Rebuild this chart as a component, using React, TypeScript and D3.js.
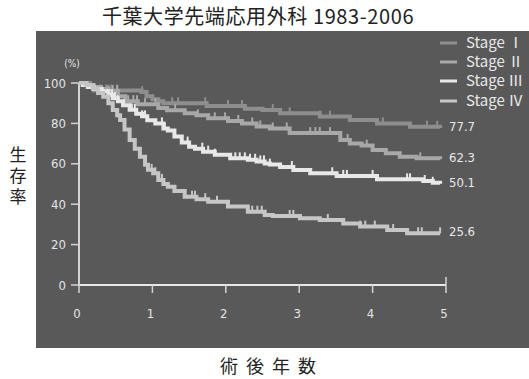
import React from "react";
import * as d3 from "d3";

// KM step points (years, survival %)
const stageITime = [0, 0.15, 0.2, 0.85, 0.92, 1.0, 1.08, 1.15, 1.74, 2.26, 2.5, 2.74, 3.28, 3.69, 4.06, 4.51, 4.92];
const stageISurv = [100, 98, 96.3, 95.5, 93.5, 92, 91, 90, 88.6, 87.2, 86.6, 85, 83.4, 81.7, 80, 78.3, 77.7];
const stageICensor = [0.29, 0.37, 0.44, 0.52, 0.86, 1.27, 1.35, 1.72, 2.03, 2.22, 2.64, 2.87, 3.28, 3.42, 4.14, 4.74, 4.88];

const stageIITime = [0, 0.1, 0.2, 0.3, 0.4, 0.53, 0.63, 0.8, 1.08, 1.2, 1.44, 1.6, 1.76, 2.03, 2.22, 2.42, 2.6, 2.87, 3.56, 3.69, 3.85, 4.0, 4.18, 4.37, 4.6, 4.92];
const stageIISurv = [100, 99, 98, 97, 96, 93.4, 91, 89.5, 87.6, 86.5, 85, 84, 82.5, 81.2, 80, 78.5, 77.5, 75.2, 71.8, 70.1, 69, 66.8, 65.2, 63.5, 62.7, 62.3];
const stageIICensor = [0.4, 0.46, 0.52, 0.67, 0.74, 0.79, 0.9, 1.04, 1.31, 1.62, 1.85, 1.99, 2.17, 2.36, 2.47, 2.64, 2.83, 3.15, 3.22, 3.28, 3.42, 3.56, 3.66, 3.92, 4.65];

const stageIIITime = [0, 0.05, 0.12, 0.2, 0.31, 0.4, 0.46, 0.53, 0.6, 0.69, 0.78, 0.86, 0.93, 1.04, 1.15, 1.21, 1.3, 1.4, 1.5, 1.58, 1.69, 1.85, 2.06, 2.3, 2.42, 2.53, 2.6, 2.74, 2.92, 3.15, 3.51, 4.06, 4.69, 4.82, 4.92];
const stageIIISurv = [100, 99, 98, 97, 95.9, 94, 92.5, 91, 89, 86.8, 84.8, 83.5, 81.5, 80, 77.5, 76.5, 73.5, 70.5, 68.5, 67.5, 66, 64.5, 62.7, 62, 61.2, 60.2, 59.6, 58.4, 56.9, 55.3, 54, 52.3, 51.5, 50.6, 50.1];
const stageIIICensor = [0.4, 0.45, 0.49, 0.53, 0.72, 0.76, 0.86, 0.9, 1.13, 1.17, 1.48, 1.68, 1.76, 1.85, 2.13, 2.19, 2.26, 2.33, 2.4, 2.47, 2.52, 2.6, 2.9, 3.45, 3.6, 3.65, 4.0, 4.47, 4.51, 4.71, 4.82];

const stageIVTime = [0, 0.1, 0.19, 0.26, 0.33, 0.4, 0.46, 0.52, 0.56, 0.62, 0.69, 0.76, 0.83, 0.9, 0.94, 1.01, 1.08, 1.15, 1.21, 1.3, 1.44, 1.6, 1.76, 2.03, 2.3, 2.53, 2.64, 3.01, 3.28, 3.6, 3.83, 4.2, 4.47, 4.92];
const stageIVSurv = [100, 99, 97.3, 95, 93.2, 90, 86.6, 84, 81.7, 77, 71.8, 67.5, 63.5, 59.5, 57, 55.3, 52, 50, 48.7, 46.5, 43.7, 42.5, 41.2, 38.8, 36.3, 34.7, 34.2, 33, 32.2, 30.5, 28.9, 27.2, 25.6, 25.6];
const stageIVCensor = [0.99, 1.04, 1.13, 1.31, 1.54, 1.58, 1.72, 1.88, 2.36, 2.43, 2.49, 2.87, 2.92, 3.39, 3.83, 3.9, 4.03, 4.28, 4.62, 4.67, 4.92];

const stageNames = ["Stage Ⅰ", "Stage Ⅱ", "Stage Ⅲ", "Stage Ⅳ"];
const stageColors = ["#8e8e8e", "#a8a8a8", "#e8e8e8", "#c6c6c6"];
const endLabels = ["77.7", "62.3", "50.1", "25.6"];

const yTicks = [0, 20, 40, 60, 80, 100];
const xTicks = [0, 1, 2, 3, 4, 5];

const series = [
  { time: stageITime, surv: stageISurv, censor: stageICensor },
  { time: stageIITime, surv: stageIISurv, censor: stageIICensor },
  { time: stageIIITime, surv: stageIIISurv, censor: stageIIICensor },
  { time: stageIVTime, surv: stageIVSurv, censor: stageIVCensor },
];

const narrow = "'Liberation Sans Narrow', 'DejaVu Sans Condensed', 'Liberation Sans', sans-serif";
const cjk = "'Noto Sans CJK JP', sans-serif";

export default function App() {
  const W = 529;
  const H = 379;
  const x = d3.scaleLinear().domain([0, 5]).range([79, 446]);
  const y = d3.scaleLinear().domain([0, 100]).range([285, 83]);

  const line = d3
    .line<[number, number]>()
    .x((d) => x(d[0]))
    .y((d) => y(d[1]))
    .curve(d3.curveStepAfter);

  // survival at time t for censor marks
  const survAt = (time: number[], surv: number[], t: number) => {
    const i = d3.bisectRight(time, t) - 1;
    return surv[Math.max(0, i)];
  };

  return (
    <svg width={W} height={H} style={{ position: "absolute", left: 0, top: 0, background: "#fff" }}>
      <text x={258} y={24} textAnchor="middle" fontFamily={cjk} fontSize={20} fill="#222" letterSpacing={0.6}>
        千葉大学先端応用外科 1983-2006
      </text>
      <rect x={36} y={31} width={W - 36} height={317} fill="#595959" />

      {/* y axis */}
      <line x1={79} x2={79} y1={y(100)} y2={y(0)} stroke="#d4d4d4" strokeWidth={2} />
      {yTicks.map((t) => (
        <g key={t}>
          <line x1={71} x2={79} y1={y(t)} y2={y(t)} stroke="#d4d4d4" strokeWidth={1.5} />
          <text x={66} y={y(t) + 4.5} textAnchor="end" fontFamily={narrow} fontSize={13} fill="#e4e4e4">
            {t}
          </text>
        </g>
      ))}
      <text x={72} y={67} textAnchor="middle" fontFamily={narrow} fontSize={10} fill="#e4e4e4">
        (%)
      </text>

      {/* x axis */}
      <line x1={x(0)} x2={x(5)} y1={285} y2={285} stroke="#e8e8e8" strokeWidth={2} />
      {xTicks.map((t) => (
        <g key={t}>
          <line
            x1={x(t)}
            x2={x(t)}
            y1={t === 0 || t === 5 ? 277 : 285}
            y2={293}
            stroke="#d4d4d4"
            strokeWidth={1.5}
          />
          <text x={x(t) - 2} y={318} textAnchor="middle" fontFamily={narrow} fontSize={13} fill="#e4e4e4">
            {t}
          </text>
        </g>
      ))}

      {/* curves */}
      {series.map((s, i) => {
        const pts = s.time.map((t, j) => [t, s.surv[j]] as [number, number]);
        return (
          <g key={i}>
            <path d={line(pts) || ""} fill="none" stroke={stageColors[i]} strokeWidth={4} />
            {s.censor.map((c, j) => {
              const v = survAt(s.time, s.surv, c);
              return (
                <line
                  key={j}
                  x1={x(c)}
                  x2={x(c)}
                  y1={y(v)}
                  y2={y(v) - 6}
                  stroke={stageColors[i]}
                  strokeWidth={2}
                />
              );
            })}
            <text
              x={x(5) + 3}
              y={y(s.surv[s.surv.length - 1]) + 3}
              fontFamily={narrow}
              fontSize={13}
              fill="#e8e8e8"
            >
              {endLabels[i]}
            </text>
          </g>
        );
      })}

      {/* legend */}
      {stageNames.map((n, i) => {
        const ly = [43, 62, 81, 101][i];
        return (
          <g key={n}>
            <line x1={440} x2={457} y1={ly} y2={ly} stroke={stageColors[i]} strokeWidth={3} />
            <text x={466} y={ly + 5} fontFamily={cjk} fontSize={15} fill="#e8e8e8">
              {n}
            </text>
          </g>
        );
      })}

      {/* axis titles */}
      <text
        x={18}
        y={146}
        fontFamily={cjk}
        fontSize={17}
        fill="#222"
        letterSpacing={4}
        style={{ writingMode: "vertical-rl" }}
      >
        生存率
      </text>
      <text x={269} y={373} textAnchor="middle" fontFamily={cjk} fontSize={18} fill="#222" letterSpacing={2}>
        術 後 年 数
      </text>
    </svg>
  );
}
